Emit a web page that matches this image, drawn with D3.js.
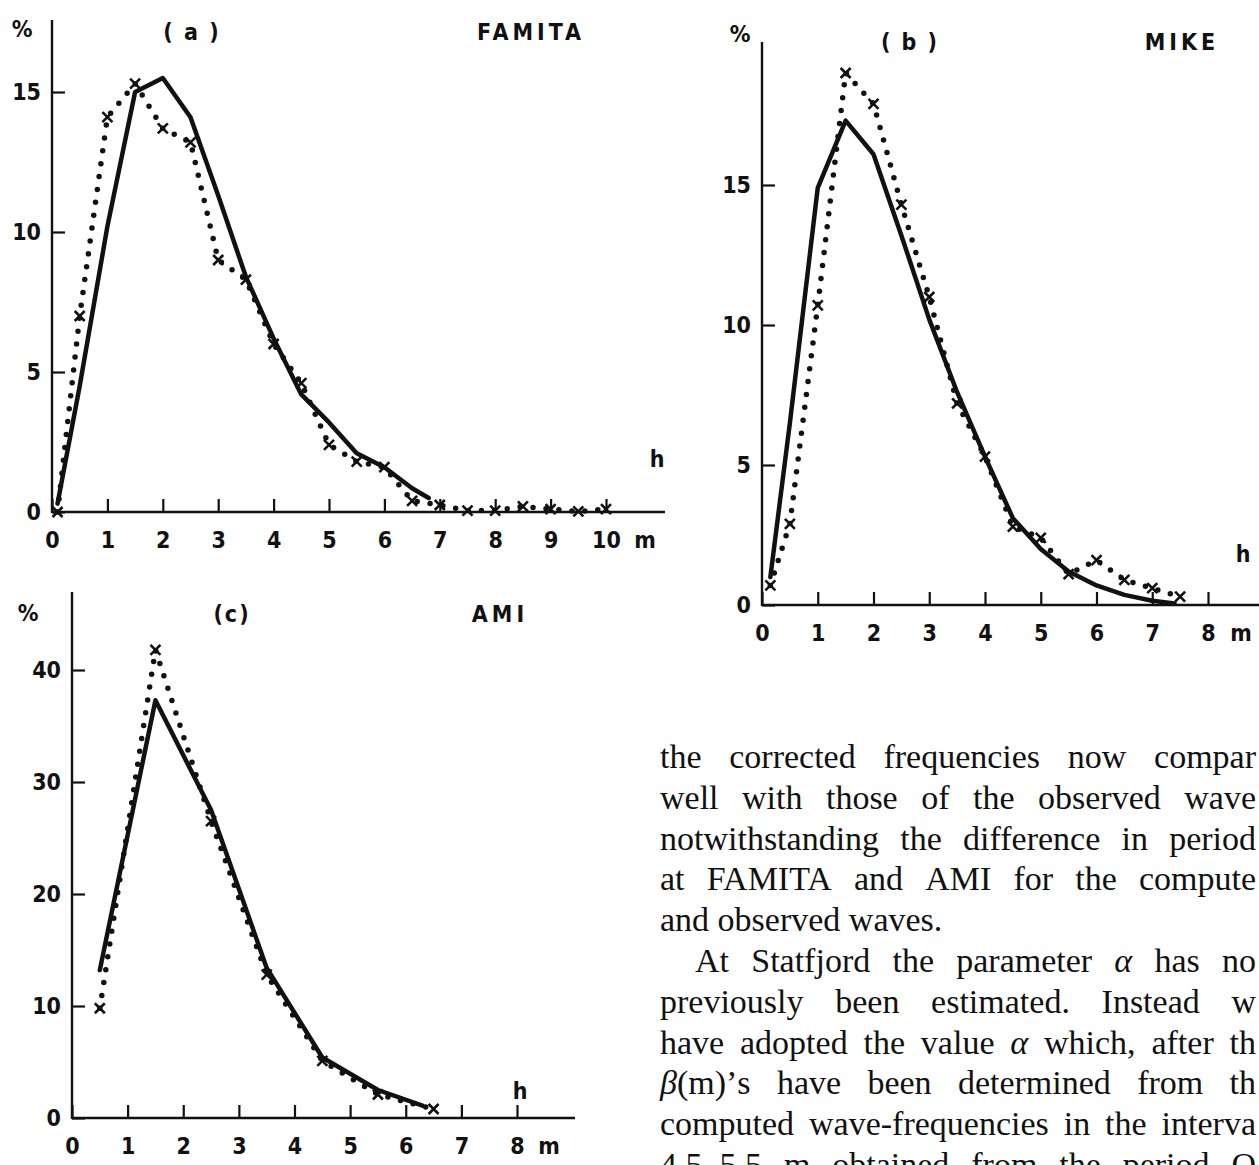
<!DOCTYPE html>
<html><head><meta charset="utf-8">
<script src="https://cdn.jsdelivr.net/npm/d3@7"></script>
<style>
html,body{margin:0;padding:0;background:#fff;}
svg{display:block;background:#fff;}
</style></head><body>
<svg id="c" width="1259" height="1165"></svg>
<script>
// ---------- data ----------
// Panel (a) FAMITA
const aObsH  = [0.1, 0.5, 1, 1.5, 2, 2.5, 3, 3.5, 4, 4.5, 5, 5.5, 6, 6.5, 7, 7.5, 8, 8.5, 9, 9.5, 10];
const aObs   = [0, 7.0, 14.1, 15.3, 13.7, 13.2, 9.0, 8.3, 6.0, 4.6, 2.4, 1.8, 1.6, 0.4, 0.25, 0.05, 0.05, 0.2, 0.1, 0.02, 0.1];
const aCompH = [0.1, 0.5, 1, 1.5, 2, 2.5, 3, 3.5, 4, 4.5, 5, 5.5, 6, 6.5, 6.8];
const aComp  = [0.3, 4.5, 10.2, 15.0, 15.5, 14.1, 11.3, 8.4, 6.2, 4.2, 3.2, 2.1, 1.6, 0.85, 0.5];
const aXTicks = [0, 1, 2, 3, 4, 5, 6, 7, 8, 9, 10];
const aYTicks = [0, 5, 10, 15];
// Panel (b) MIKE
const bObsH  = [0.15, 0.5, 1, 1.5, 2, 2.5, 3, 3.5, 4, 4.5, 5, 5.5, 6, 6.5, 7, 7.5];
const bObs   = [0.7, 2.9, 10.7, 19.0, 17.9, 14.3, 11.0, 7.2, 5.3, 2.8, 2.4, 1.1, 1.6, 0.9, 0.6, 0.3];
const bCompH = [0.15, 0.5, 1, 1.5, 2, 2.5, 3, 3.5, 4, 4.5, 5, 5.5, 6, 6.5, 7, 7.4];
const bComp  = [1.0, 6.5, 14.9, 17.3, 16.1, 13.2, 10.2, 7.6, 5.3, 3.1, 2.0, 1.2, 0.7, 0.36, 0.15, 0.05];
const bXTicks = [0, 1, 2, 3, 4, 5, 6, 7, 8];
const bYTicks = [0, 5, 10, 15];
// Panel (c) AMI
const cObsH  = [0.5, 1.5, 2.5, 3.5, 4.5, 5.5, 6.5];
const cObs   = [9.8, 41.8, 26.5, 12.8, 5.1, 2.1, 0.8];
const cCompH = [0.5, 1.5, 2.5, 3.5, 4.5, 5.5, 6.3];
const cComp  = [13.2, 37.3, 27.5, 13.4, 5.4, 2.5, 1.1];
const cXTicks = [0, 1, 2, 3, 4, 5, 6, 7, 8];
const cYTicks = [0, 10, 20, 30, 40];

const proseLines = [
  "the corrected frequencies now compar",
  "well with those of the observed wave",
  "notwithstanding the difference in period",
  "at FAMITA and AMI for the compute",
  "and observed waves.",
  "At Statfjord the parameter α has no",
  "previously been estimated. Instead w",
  "have adopted the value α which, after th",
  "β(m)’s have been determined from th",
  "computed wave-frequencies in the interva",
  "4.5–5.5 m obtained from the period O"
];

// ---------- layout ----------
const INK = "#111";
const LABFONT = "'DejaVu Sans Condensed', 'DejaVu Sans', sans-serif";
const LABWEIGHT = "bold";
const svg = d3.select("#c");
svg.append("rect").attr("width", 1259).attr("height", 1165).attr("fill", "#fff");

const panels = [
  {title: "( a )", site: "FAMITA", obsH: aObsH, obs: aObs, compH: aCompH, comp: aComp,
   xTicks: aXTicks, yTicks: aYTicks, xDom: [0, 10], yDom: [0, 15], xR: [52, 606], yR: [512, 92],
   top: 20, right: 665, pct: [22, 37], ttl: [192, 40], st: [531, 40], h: [657, 467], m: [645, 0]},
  {title: "( b )", site: "MIKE", obsH: bObsH, obs: bObs, compH: bCompH, comp: bComp,
   xTicks: bXTicks, yTicks: bYTicks, xDom: [0, 8], yDom: [0, 15], xR: [762, 1208], yR: [605, 185],
   top: 42, right: 1259, pct: [740, 42], ttl: [910, 50], st: [1182, 50], h: [1243, 562], m: [1241, 0]},
  {title: "(c)", site: "AMI", obsH: cObsH, obs: cObs, compH: cCompH, comp: cComp,
   xTicks: cXTicks, yTicks: cYTicks, xDom: [0, 8], yDom: [0, 40], xR: [72, 517], yR: [1118, 670],
   top: 592, right: 575, pct: [28, 621], ttl: [232, 622], st: [500, 622], h: [520, 1099], m: [549, 0]}
];

function lab(g, txt, x, y, anchor, ls) {
  return g.append("text").attr("x", x).attr("y", y).attr("text-anchor", anchor || "middle")
    .attr("font-family", LABFONT).attr("font-weight", LABWEIGHT).attr("font-size", 23).attr("fill", INK)
    .attr("letter-spacing", ls || 0).text(txt);
}

panels.forEach(p => {
  const x = d3.scaleLinear().domain(p.xDom).range(p.xR);
  const y = d3.scaleLinear().domain(p.yDom).range(p.yR);
  const g = svg.append("g");

  // axis lines
  g.append("line").attr("x1", x(0)).attr("x2", x(0)).attr("y1", y(0) + 1).attr("y2", p.top)
    .attr("stroke", INK).attr("stroke-width", 2.4);
  g.append("line").attr("x1", x(0)).attr("x2", p.right).attr("y1", y(0)).attr("y2", y(0))
    .attr("stroke", INK).attr("stroke-width", 2.4);

  // x axis ticks + labels
  const gx = g.append("g").attr("transform", `translate(0,${y(0)})`)
    .call(d3.axisBottom(x).tickValues(p.xTicks).tickSizeInner(-13).tickSizeOuter(0)
      .tickPadding(20).tickFormat(d3.format("d")));
  gx.select(".domain").remove();
  gx.selectAll(".tick line").attr("stroke", INK).attr("stroke-width", 2.2);
  gx.selectAll(".tick text").attr("font-family", LABFONT).attr("font-weight", LABWEIGHT)
    .attr("font-size", 23).attr("fill", INK);
  gx.attr("font-family", null).attr("font-size", null);

  // y axis ticks + labels
  const gy = g.append("g").attr("transform", `translate(${x(0)},0)`)
    .call(d3.axisLeft(y).tickValues(p.yTicks).tickSizeInner(-13).tickSizeOuter(0)
      .tickPadding(11).tickFormat(d3.format("d")));
  gy.select(".domain").remove();
  gy.selectAll(".tick line").attr("stroke", INK).attr("stroke-width", 2.2);
  gy.selectAll(".tick text").attr("font-family", LABFONT).attr("font-weight", LABWEIGHT)
    .attr("font-size", 23).attr("fill", INK);
  gy.attr("font-family", null).attr("font-size", null);

  // unit + titles
  lab(g, "m", p.m[0], y(0) + 20, "middle").attr("dy", "0.71em");
  lab(g, "%", p.pct[0], p.pct[1], "middle");
  lab(g, p.title, p.ttl[0], p.ttl[1], "middle", 2);
  lab(g, p.site, p.st[0], p.st[1], "middle", 4);
  lab(g, "h", p.h[0], p.h[1], "middle");

  const line = d3.line().x(d => x(d[0])).y(d => y(d[1]));
  // computed (solid)
  g.append("path").datum(d3.zip(p.compH, p.comp)).attr("d", line)
    .attr("fill", "none").attr("stroke", INK).attr("stroke-width", 4.5)
    .attr("stroke-linejoin", "round").attr("stroke-linecap", "round");
  // observed (dotted)
  g.append("path").datum(d3.zip(p.obsH, p.obs)).attr("d", line)
    .attr("fill", "none").attr("stroke", INK).attr("stroke-width", 5.5)
    .attr("stroke-dasharray", "0 13").attr("stroke-linecap", "round");
  // crosses at observed points
  g.selectAll(".cross").data(d3.zip(p.obsH, p.obs)).join("path").attr("class", "cross")
    .attr("transform", d => `translate(${x(d[0])},${y(d[1])})`)
    .attr("d", "M-5,-5L5,5M-5,5L5,-5")
    .attr("stroke", INK).attr("stroke-width", 2.6).attr("fill", "none");
});

// ---------- prose block ----------
const prose = svg.append("g");
const PX = 660, PR = 1256, P0 = 768, PSTEP = 40.8;
function addWord(word, xPos, yPos) {
  const t = prose.append("text").attr("x", xPos).attr("y", yPos)
    .attr("font-family", "'Liberation Serif', 'Times New Roman', serif")
    .attr("font-size", 34).attr("fill", INK);
  word.split(/([αβ])/).filter(s => s.length).forEach(r => {
    const ts = t.append("tspan").text(r);
    if (/[αβ]/.test(r)) ts.attr("font-style", "italic");
  });
  return t;
}
proseLines.forEach((ln, i) => {
  const yPos = P0 + i * PSTEP;
  const x0 = (i === 5) ? 695 : PX;
  const words = ln.split(" ");
  const nodes = words.map(w => addWord(w, 0, yPos));
  const widths = nodes.map(n => n.node().getComputedTextLength());
  const total = d3.sum(widths);
  const justify = i !== 4;
  const gap = justify ? (PR - x0 - total) / (words.length - 1) : 8.5;
  let cx = x0;
  nodes.forEach((n, k) => { n.attr("x", cx); cx += widths[k] + gap; });
});
</script></body></html>
